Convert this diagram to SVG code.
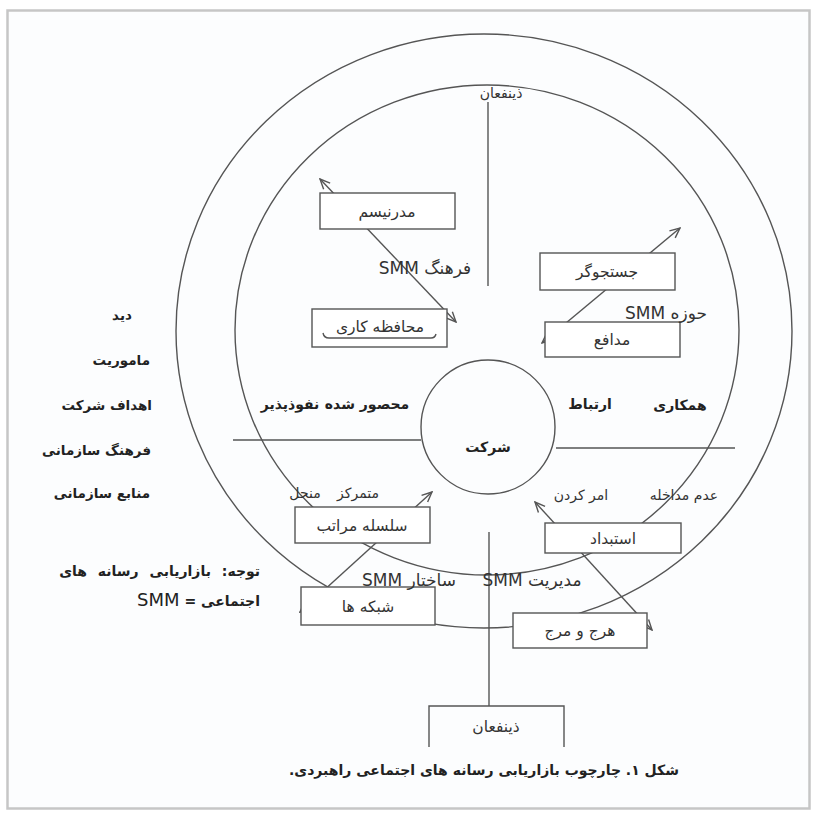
<svg xmlns="http://www.w3.org/2000/svg" width="821" height="819" viewBox="0 0 821 819">
<style>
.ln{stroke:#555;stroke-width:1.4;fill:none}
.box{fill:#fff;stroke:#555;stroke-width:1.4}
.t{font-family:"DejaVu Sans",sans-serif;font-size:14px;fill:#333;direction:rtl;text-anchor:middle}
.bx{font-size:15.5px}
.b{font-weight:bold;fill:#222}
.s{font-size:17px}
.lbl{text-anchor:start}
</style>
<defs>
<marker id="ah" viewBox="0 0 12 12" refX="11" refY="6" markerWidth="12" markerHeight="12" markerUnits="userSpaceOnUse" orient="auto-start-reverse">
<path d="M1,1.5 L11,6 L1,10.5" fill="none" stroke="#555" stroke-width="1.4"/>
</marker>
</defs>
<rect x="0" y="0" width="821" height="819" fill="#fff"/>
<rect id="frame" x="7.5" y="10.5" width="802" height="798" fill="#fcfdfe" stroke="#c6c6c6" stroke-width="2.5"/>

<g id="rings">
<ellipse id="outer" class="ln" cx="484" cy="331" rx="308" ry="297"/>
<ellipse id="inner" class="ln" cx="487" cy="330" rx="252" ry="245"/>
</g>

<g id="connectors">
<line class="ln" x1="488" y1="102" x2="488" y2="286"/>
<line class="ln" x1="489" y1="532" x2="489" y2="706"/>
<line class="ln" x1="233" y1="440" x2="421" y2="440"/>
<line class="ln" x1="556" y1="448" x2="735" y2="448"/>
<line class="ln" x1="320" y1="179" x2="456" y2="322" marker-start="url(#ah)" marker-end="url(#ah)"/>
<line class="ln" x1="680" y1="228" x2="542" y2="343" marker-start="url(#ah)" marker-end="url(#ah)"/>
<line class="ln" x1="432" y1="492" x2="300" y2="612" marker-start="url(#ah)" marker-end="url(#ah)"/>
<line class="ln" x1="535" y1="502" x2="652" y2="630" marker-start="url(#ah)" marker-end="url(#ah)"/>
</g>

<g id="company">
<circle class="ln" cx="488" cy="427" r="67"/>
<text class="t b" x="488" y="452">شرکت</text>
</g>

<g id="n-modernism">
<rect class="box" x="320" y="193" width="135" height="36"/>
<text class="t bx" x="387" y="217">مدرنیسم</text>
</g>
<g id="n-conservatism">
<rect class="box" x="312" y="309" width="135" height="38"/>
<text class="t bx" x="380" y="332">محافظه کاری</text>
<path class="ln" d="M323,333 Q324,338 329,338 L431,338 Q435,338 436,334"/>
</g>
<g id="n-seeker">
<rect class="box" x="540" y="253" width="135" height="37"/>
<text class="t bx" x="607" y="277">جستجوگر</text>
</g>
<g id="n-defender">
<rect class="box" x="545" y="322" width="135" height="35"/>
<text class="t bx" x="612" y="345">مدافع</text>
</g>
<g id="n-hierarchy">
<rect class="box" x="295" y="507" width="135" height="36"/>
<text class="t bx" x="362" y="531">سلسله مراتب</text>
</g>
<g id="n-autocracy">
<rect class="box" x="545" y="523" width="136" height="30"/>
<text class="t bx" x="613" y="544">استبداد</text>
</g>
<g id="n-networks">
<rect class="box" x="301" y="587" width="134" height="38"/>
<text class="t bx" x="368" y="612">شبکه ها</text>
</g>
<g id="n-anarchy">
<rect class="box" x="513" y="613" width="134" height="35"/>
<text class="t bx" x="580" y="636">هرج و مرج</text>
</g>
<g id="n-stakeholders-bottom">
<path class="ln" d="M429,747 L429,706 L564,706 L564,747"/>
<text class="t bx" x="496" y="732">ذینفعان</text>
</g>

<g id="labels">
<text class="t" x="501" y="98">ذینفعان</text>
<text class="t s" x="425" y="274">فرهنگ SMM</text>
<text class="t s" x="666" y="319">حوزه SMM</text>
<text class="t s" x="409" y="586">ساختار SMM</text>
<text class="t s" x="532" y="586">مدیریت SMM</text>
<text class="t b" x="367" y="409">محصور شده</text>
<text class="t b" x="290" y="409">نفوذپذیر</text>
<text class="t b" x="590" y="409">ارتباط</text>
<text class="t b" x="680" y="410">همکاری</text>
<text class="t" x="358" y="498">متمرکز</text>
<text class="t" x="305" y="498">منحل</text>
<text class="t" x="581" y="500">امر کردن</text>
<text class="t" x="684" y="500">عدم مداخله</text>
</g>

<g id="left-list">
<text class="t b" x="122" y="320" style="font-size:13.5px">دید</text>
<text class="t b lbl" x="150" y="365" style="font-size:13.5px">ماموریت</text>
<text class="t b lbl" x="152" y="410" style="font-size:13.5px">اهداف شرکت</text>
<text class="t b lbl" x="151" y="455" style="font-size:13.5px">فرهنگ سازمانی</text>
<text class="t b lbl" x="150" y="498" style="font-size:13.5px">منابع سازمانی</text>
</g>

<g id="note">
<text class="t b lbl" x="260" y="576" style="font-size:14px;word-spacing:6px">توجه: بازاریابی رسانه های</text>
<text class="t b lbl" x="260" y="606" style="font-size:14px">اجتماعی = <tspan style="font-weight:normal;font-size:18px">SMM</tspan></text>
</g>

<g id="caption">
<text class="t b" x="484" y="775" style="font-size:14px">شکل ۱. چارچوب بازاریابی رسانه های اجتماعی راهبردی.</text>
</g>
</svg>
